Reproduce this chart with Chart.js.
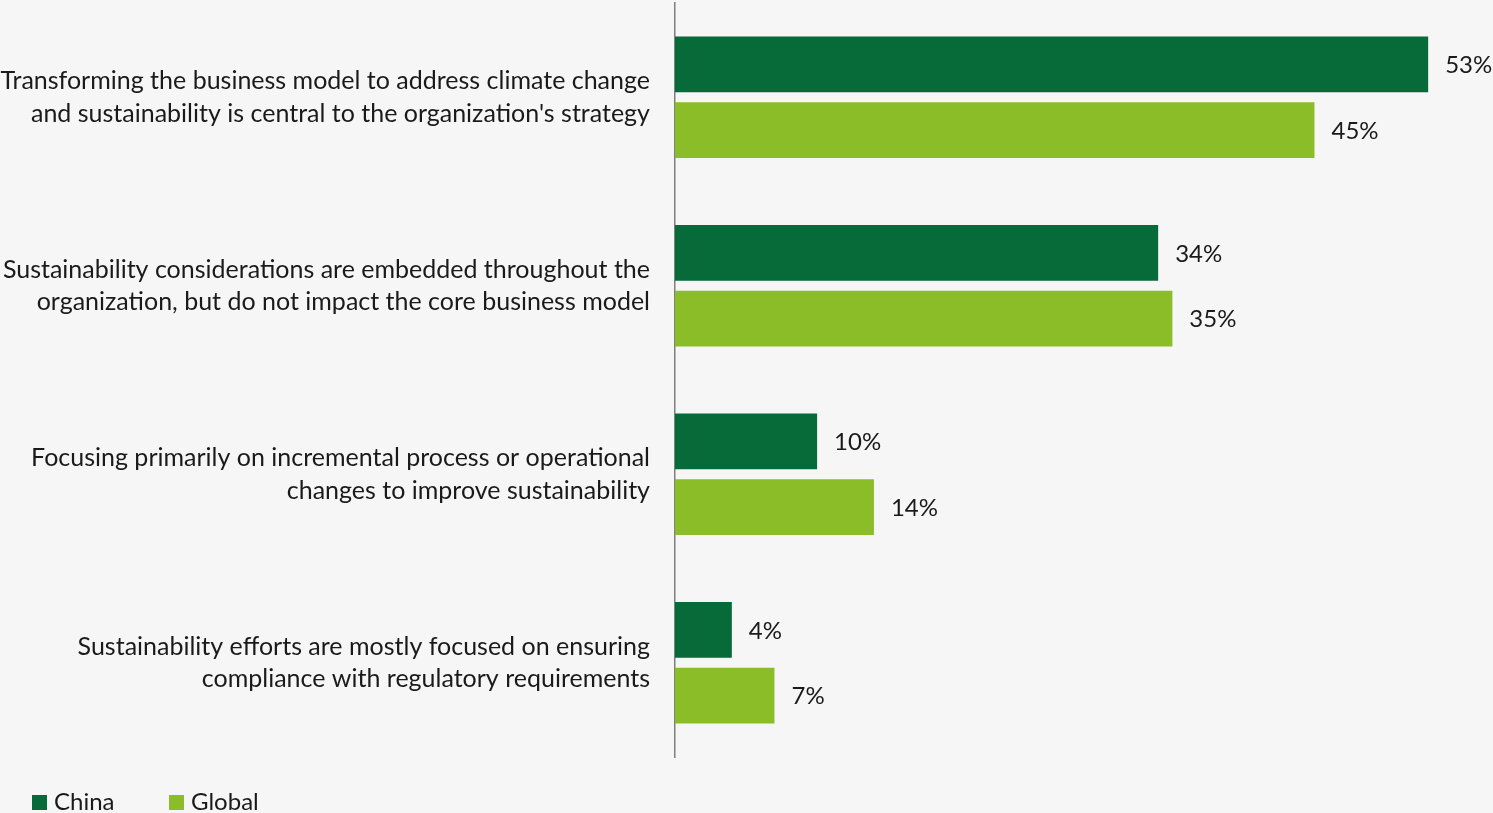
<!DOCTYPE html>
<html>
<head>
<meta charset="utf-8">
<script src="https://cdn.jsdelivr.net/npm/chart.js@4"></script>
<style>
  html, body { margin: 0; padding: 0; background: #f6f6f6; }
  #wrap { width: 1493px; height: 813px; position: relative; }
</style>
</head>
<body>
<div id="wrap"><canvas id="barChart"></canvas></div>
<script>
// categories (each as lines) and values in %
const categories = [
    ['Transforming the business model to address climate change', "and sustainability is central to the organization's strategy"],
    ['Sustainability considerations are embedded throughout the', 'organization, but do not impact the core business model'],
    ['Focusing primarily on incremental process or operational', 'changes to improve sustainability'],
    ['Sustainability efforts are mostly focused on ensuring', 'compliance with regulatory requirements']
];
const seriesNames = ['China', 'Global'];
const chinaValues = [53, 34, 10, 4];
const globalValues = [45, 35, 14, 7];

const FONT = 'Lato, "Open Sans", sans-serif';

// value labels to the right of each bar
const valueLabels = {
    id: 'valueLabels',
    afterDatasetsDraw(chart) {
        const ctx = chart.ctx;
        ctx.save();
        ctx.font = '24px ' + FONT;
        ctx.fillStyle = '#1a1a1a';
        ctx.textBaseline = 'middle';
        chart.data.datasets.forEach((ds, i) => {
            chart.getDatasetMeta(i).data.forEach((bar, j) => {
                ctx.fillText(ds.data[j] + '%', bar.x + 17, bar.y + 1);
            });
        });
        ctx.restore();
    }
};

// small legend at the bottom left
const bottomLegend = {
    id: 'bottomLegend',
    afterDraw(chart) {
        const ctx = chart.ctx;
        ctx.save();
        ctx.font = '24px ' + FONT;
        ctx.textBaseline = 'middle';
        const xs = [32, 169];
        chart.data.datasets.forEach((ds, i) => {
            ctx.fillStyle = ds.backgroundColor;
            ctx.fillRect(xs[i], 795, 15, 15);
            ctx.fillStyle = '#1a1a1a';
            ctx.fillText(ds.label, xs[i] + 22, 802);
        });
        ctx.restore();
    }
};

new Chart(document.getElementById('barChart'), {
    type: 'bar',
    data: {
        labels: categories,
        datasets: [
            { label: seriesNames[0], data: chinaValues, backgroundColor: '#066a39' },
            { label: seriesNames[1], data: globalValues, backgroundColor: '#8bbd29' }
        ]
    },
    options: {
        indexAxis: 'y',
        responsive: true,
        maintainAspectRatio: false,
        animation: false,
        categoryPercentage: 0.698,
        barPercentage: 0.848,
        layout: { padding: { top: 3, right: 8, bottom: 56, left: 0 } },
        scales: {
            x: {
                min: 0,
                max: 57,
                display: false,
                grid: { display: false }
            },
            y: {
                grid: { display: false, drawTicks: false },
                border: { display: true, color: '#7f7f7f', width: 1.5 },
                afterFit(scale) {
                    scale.width = 675;
                    scale.paddingTop = 0;
                    scale.paddingBottom = 0;
                },
                ticks: {
                    padding: 25,
                    color: '#1a1a1a',
                    font: { family: FONT, size: 25, lineHeight: 1.3 }
                }
            }
        },
        plugins: {
            legend: { display: false },
            tooltip: { enabled: false }
        }
    },
    plugins: [valueLabels, bottomLegend]
});
</script>
</body>
</html>
